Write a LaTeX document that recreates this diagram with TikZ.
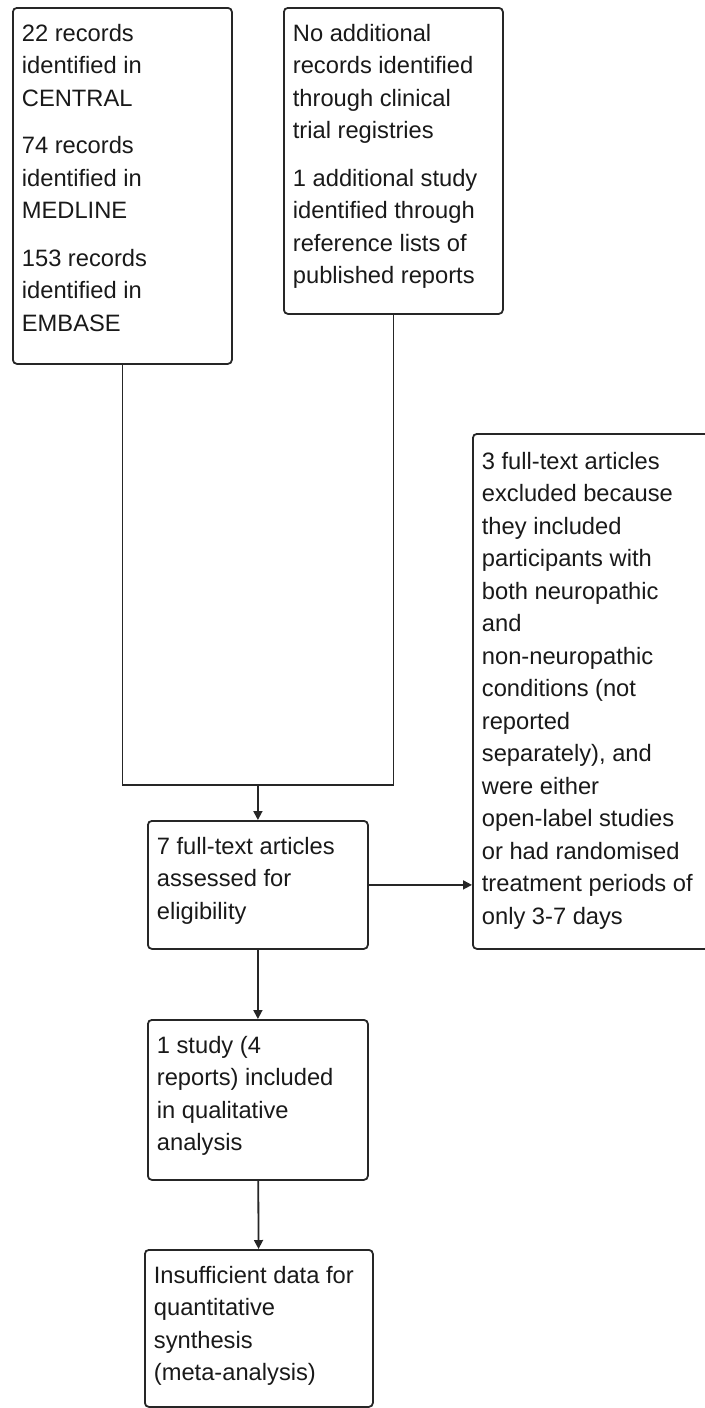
\documentclass[tikz,border=0pt]{standalone}
\usepackage{fontspec}
\setmainfont{Liberation Sans}
\usetikzlibrary{arrows.meta}

\newcommand{\boxtext}[3]{\parbox[t][#2][t]{#1}{\raggedright\strut #3}}
\def\parskipgap{7.5pt}

\begin{document}
\begin{tikzpicture}[x=0.5pt,y=-0.5pt,>={Triangle[length=4.5pt,width=4.5pt]},draw=black!85,line width=0.9pt]
    \tikzstyle{box}=[draw,rounded corners=2pt,anchor=north west,inner xsep=4.5pt,inner ysep=5.4pt,font=\fontsize{11.85}{16.25}\selectfont,text=black!90]

    \useasboundingbox (0,0) rectangle (705,1408);

    % Draw the search boxes
    \node[box] (central) at (12,7) {\boxtext{100.5pt}{167.2pt}{22 records\\ identified in\\ CENTRAL\\[\parskipgap]
        74 records\\ identified in\\ MEDLINE\\[\parskipgap]
        153 records\\ identified in\\ EMBASE}};
    \node[box] (other) at (283,7) {\boxtext{100.5pt}{142.2pt}{No additional\\ records identified\\ through clinical\\ trial registries\\[\parskipgap]
        1 additional study\\ identified through\\ reference lists of\\ published reports}};

    % Draw the screening boxes
    \node[box] (assessed) at (147,820) {\boxtext{101pt}{53.2pt}{7 full-text articles\\ assessed for\\ eligibility}};
    \node[box,inner ysep=6.4pt] (excluded) at (472,433) {\boxtext{109pt}{244.7pt}{3 full-text articles\\ excluded because\\ they included\\ participants with\\ both neuropathic\\ and\\ non-neuropathic\\ conditions (not\\ reported\\ separately), and\\ were either\\ open-label studies\\ or had randomised\\ treatment periods of\\ only 3-7 days}};
    \node[box] (included) at (147,1019) {\boxtext{101pt}{69.2pt}{1 study (4\\ reports) included\\ in qualitative\\ analysis}};
    \node[box] (synth) at (144,1249) {\boxtext{105pt}{67.7pt}{Insufficient data for\\ quantitative\\ synthesis\\ (meta-analysis)}};

    % Join the two sources above the assessed box
    \coordinate (merge) at (assessed.north |- 0,785);
    \draw (central.south) |- (merge);
    \draw (other.south) |- (merge);
    \draw[->] (merge) -- (assessed.north);

    % Connect the remaining boxes
    \draw[->] (assessed.east) -- (assessed.east -| excluded.west);
    \draw[->] (assessed) -- (included);
    \draw[->] (included) -- (synth);
\end{tikzpicture}
\end{document}
